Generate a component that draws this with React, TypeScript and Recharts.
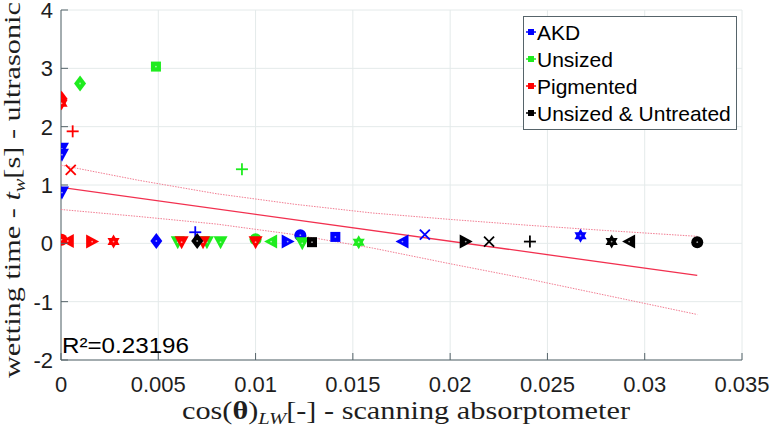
import React from 'react';
import { ScatterChart, Scatter, XAxis, YAxis, CartesianGrid } from 'recharts';

// ---------- data ----------
const xTicks = [0, 0.005, 0.01, 0.015, 0.02, 0.025, 0.03, 0.035];
const xTickLabels = ['0', '0.005', '0.01', '0.015', '0.02', '0.025', '0.03', '0.035'];
const yTicks = [-2, -1, 0, 1, 2, 3, 4];
const yTickLabels = ['-2', '-1', '0', '1', '2', '3', '4'];

const seriesNames = ['AKD', 'Unsized', 'Pigmented', 'Unsized & Untreated'];

const akdX = [0.00005, 0.00005, 0.00005, 0.0069, 0.0049, 0.01165, 0.0123, 0.0141, 0.01755, 0.0187, 0.0267];
const akdY = [1.62, 1.52, 0.87, 0.19, 0.04, 0.03, 0.14, 0.11, 0.03, 0.15, 0.13];
const akdMarkers = ['v', 'v', 'v', '+', 'd', '>', 'o', 's', '<', 'x', 'h'];

const unsizedX = [0.00488, 0.00098, 0.0093, 0.006, 0.0075, 0.0082, 0.01, 0.0108, 0.0124, 0.0153];
const unsizedY = [3.03, 2.74, 1.27, 0.02, 0.02, 0.02, 0.07, 0.03, 0.0, 0.02];
const unsizedMarkers = ['s', 'd', '+', 'v', 'v', 'v', 'o', '<', 'v', 'h'];

const pigmentedX = [0.00003, 0.00003, 0.0006, 0.0005, 0.00003, 0.00035, 0.0016, 0.0027, 0.0062, 0.0073, 0.01];
const pigmentedY = [2.48, 2.4, 1.92, 1.26, 0.06, 0.04, 0.03, 0.03, 0.02, 0.02, 0.02];
const pigmentedMarkers = ['d', 'h', '+', 'x', 'o', '<', '>', 'h', 'v', 'v', 'v'];

const untreatedX = [0.007, 0.0129, 0.0208, 0.022, 0.0241, 0.0283, 0.0292, 0.0327];
const untreatedY = [0.04, 0.02, 0.03, 0.03, 0.03, 0.03, 0.03, 0.02];
const untreatedMarkers = ['d', 's', '>', 'x', '+', 'h', '<', 'o'];

const fitX = [0, 0.0327];
const fitY = [0.96, -0.55];
const bandX = [0, 0.004, 0.008, 0.012, 0.016, 0.02, 0.024, 0.028, 0.0327];
const upperY = [1.34, 1.08, 0.85, 0.67, 0.52, 0.41, 0.31, 0.22, 0.12];
const lowerY = [0.58, 0.46, 0.33, 0.15, -0.08, -0.35, -0.61, -0.89, -1.22];

const r2Label = 'R\u00B2=0.23196';

// ---------- styles ----------
const COLORS = ['#0000ff', '#1eec1e', '#ff0000', '#000000'];
const AXIS = '#56646a';
const GRID = '#e4eaea';
const FIT = '#f2304f';
const BAND = '#f27d92';
const SANS = '"Liberation Sans", Arial, sans-serif';
const SERIF = '"Liberation Serif", "Times New Roman", serif';

const toPts = (xs: number[], ys: number[]) => xs.map((x, i) => ({ x, y: ys[i], i }));

function Marker({ cx, cy, m, color }: { cx: number; cy: number; m: string; color: string }) {
  const dot = <circle cx={cx} cy={cy} r={0.9} fill="#ffffff" opacity={0.6} />;
  switch (m) {
    case 'v':
      return (
        <g>
          <polygon points={`${cx - 7},${cy - 6} ${cx + 7},${cy - 6} ${cx},${cy + 7}`} fill={color} />
          {dot}
        </g>
      );
    case '>':
      return (
        <g>
          <polygon points={`${cx - 6},${cy - 7} ${cx - 6},${cy + 7} ${cx + 7},${cy}`} fill={color} />
          {dot}
        </g>
      );
    case '<':
      return (
        <g>
          <polygon points={`${cx + 6},${cy - 7} ${cx + 6},${cy + 7} ${cx - 7},${cy}`} fill={color} />
          {dot}
        </g>
      );
    case 'd':
      return (
        <g>
          <polygon points={`${cx},${cy - 8} ${cx + 6},${cy} ${cx},${cy + 8} ${cx - 6},${cy}`} fill={color} />
          {dot}
        </g>
      );
    case 's':
      return (
        <g>
          <rect x={cx - 5} y={cy - 5} width={10} height={10} fill={color} />
          {dot}
        </g>
      );
    case 'o':
      return (
        <g>
          <circle cx={cx} cy={cy} r={6} fill={color} />
          {dot}
        </g>
      );
    case 'h': {
      const r = 7;
      const tri = (a0: number) =>
        [0, 1, 2]
          .map((k) => {
            const a = ((a0 + k * 120) * Math.PI) / 180;
            return `${cx + r * Math.cos(a)},${cy + r * Math.sin(a)}`;
          })
          .join(' ');
      return (
        <g>
          <polygon points={tri(-90)} fill={color} />
          <polygon points={tri(90)} fill={color} />
          {dot}
        </g>
      );
    }
    case '+':
      return (
        <g stroke={color} strokeWidth={1.8}>
          <line x1={cx - 6} x2={cx + 6} y1={cy} y2={cy} />
          <line x1={cx} x2={cx} y1={cy - 6} y2={cy + 6} />
        </g>
      );
    case 'x':
      return (
        <g stroke={color} strokeWidth={1.8}>
          <line x1={cx - 5} x2={cx + 5} y1={cy - 5} y2={cy + 5} />
          <line x1={cx - 5} x2={cx + 5} y1={cy + 5} y2={cy - 5} />
        </g>
      );
    default:
      return <g />;
  }
}

const makeShape = (markers: string[], color: string) => (props: any) => {
  if (props == null || props.cx == null || props.cy == null) return <g />;
  const idx = props.payload ? props.payload.i : 0;
  return <Marker cx={props.cx} cy={props.cy} m={markers[idx]} color={color} />;
};

const noShape = () => <g />;

const BottomTick = (props: any) => {
  const { x, y, index } = props;
  return (
    <g>
      <line x1={x} x2={x} y1={y} y2={y - 7} stroke={AXIS} />
      <text x={x} y={y + 32} textAnchor="middle" fontFamily={SANS} fontSize={22} fill="#1e1e1e">
        {xTickLabels[index]}
      </text>
    </g>
  );
};

const TopTick = (props: any) => {
  const { x, y } = props;
  return <line x1={x} x2={x} y1={y} y2={y + 7} stroke={AXIS} />;
};

const LeftTick = (props: any) => {
  const { x, y, index } = props;
  return (
    <g>
      <line x1={x} x2={x + 7} y1={y} y2={y} stroke={AXIS} />
      <text x={x - 8} y={y + 8} textAnchor="end" fontFamily={SANS} fontSize={22} fill="#1e1e1e">
        {yTickLabels[index]}
      </text>
    </g>
  );
};

const RightTick = (props: any) => {
  const { x, y } = props;
  return <line x1={x} x2={x - 7} y1={y} y2={y} stroke={AXIS} />;
};

export default function App() {
  const groups = [
    { name: seriesNames[0], data: toPts(akdX, akdY), markers: akdMarkers, color: COLORS[0] },
    { name: seriesNames[1], data: toPts(unsizedX, unsizedY), markers: unsizedMarkers, color: COLORS[1] },
    { name: seriesNames[2], data: toPts(pigmentedX, pigmentedY), markers: pigmentedMarkers, color: COLORS[2] },
    { name: seriesNames[3], data: toPts(untreatedX, untreatedY), markers: untreatedMarkers, color: COLORS[3] },
  ];
  const legendRows = [32, 59, 86, 113];

  return (
    <div style={{ position: 'absolute', left: 0, top: 0, width: 774, height: 430, background: '#fff' }}>
      <ScatterChart width={774} height={430} margin={{ top: 10, right: 32, bottom: 0, left: 0 }}>
        <CartesianGrid stroke={GRID} strokeWidth={1} />
        <XAxis
          type="number"
          dataKey="x"
          domain={[0, 0.035]}
          ticks={xTicks}
          allowDataOverflow
          height={70}
          tickSize={0}
          tickMargin={0}
          tick={<BottomTick />}
          axisLine={{ stroke: AXIS }}
          interval={0}
        />
        <XAxis
          xAxisId="top"
          orientation="top"
          type="number"
          dataKey="x"
          domain={[0, 0.035]}
          ticks={xTicks}
          allowDataOverflow
          height={0}
          tickSize={0}
          tickMargin={0}
          tick={<TopTick />}
          axisLine={{ stroke: AXIS }}
          interval={0}
        />
        <YAxis
          type="number"
          dataKey="y"
          domain={[-2, 4]}
          ticks={yTicks}
          allowDataOverflow
          width={61}
          tickSize={0}
          tickMargin={0}
          tick={<LeftTick />}
          axisLine={{ stroke: AXIS }}
          interval={0}
        />
        <YAxis
          yAxisId="right"
          orientation="right"
          type="number"
          dataKey="y"
          domain={[-2, 4]}
          ticks={yTicks}
          allowDataOverflow
          width={0}
          tickSize={0}
          tickMargin={0}
          tick={<RightTick />}
          axisLine={{ stroke: AXIS }}
          interval={0}
        />
        <Scatter
          name="upper"
          data={toPts(bandX, upperY)}
          line={{ stroke: BAND, strokeWidth: 1, strokeDasharray: '1.5 1.2' }}
          shape={noShape}
          legendType="none"
          isAnimationActive={false}
        />
        <Scatter
          name="lower"
          data={toPts(bandX, lowerY)}
          line={{ stroke: BAND, strokeWidth: 1, strokeDasharray: '1.5 1.2' }}
          shape={noShape}
          legendType="none"
          isAnimationActive={false}
        />
        <Scatter
          name="fit"
          data={toPts(fitX, fitY)}
          line={{ stroke: FIT, strokeWidth: 1.3 }}
          shape={noShape}
          legendType="none"
          isAnimationActive={false}
        />
        {groups.map((g) => (
          <Scatter
            key={g.name}
            name={g.name}
            data={g.data}
            fill={g.color}
            shape={makeShape(g.markers, g.color)}
            isAnimationActive={false}
          />
        ))}
      </ScatterChart>

      <svg
        width={774}
        height={430}
        style={{ position: 'absolute', left: 0, top: 0, pointerEvents: 'none' }}
      >
        {/* legend */}
        <rect x={523.5} y={16.5} width={213} height={113} fill="#ffffff" stroke={AXIS} strokeWidth={1} />
        {seriesNames.map((n, k) => (
          <g key={n}>
            <line x1={526} x2={536} y1={legendRows[k]} y2={legendRows[k]} stroke={COLORS[k]} strokeWidth={1.5} />
            <rect x={528} y={legendRows[k] - 3} width={6} height={6} fill={COLORS[k]} />
            <text x={537} y={legendRows[k] + 7.5} fontFamily={SANS} fontSize={21} fill="#000">
              {n}
            </text>
          </g>
        ))}

        {/* R^2 */}
        <text x={62} y={353} fontFamily={SANS} fontSize={22} fill="#000" textLength={127} lengthAdjust="spacingAndGlyphs">
          {r2Label}
        </text>

        {/* x axis label */}
        <text
          x={406}
          y={419}
          textAnchor="middle"
          fontFamily={SERIF}
          fontSize={25}
          fill="#1e1e1e"
          textLength={448}
          lengthAdjust="spacingAndGlyphs"
        >
          cos(<tspan fontWeight="bold">θ</tspan>)
          <tspan fontStyle="italic" fontSize={17} dy={5}>LW</tspan>
          <tspan dy={-5}>[-] - scanning absorptometer</tspan>
        </text>

        {/* y axis label */}
        <text
          transform="translate(20,190) rotate(-90)"
          x={0}
          y={0}
          textAnchor="middle"
          fontFamily={SERIF}
          fontSize={24}
          fill="#1e1e1e"
          textLength={376}
          lengthAdjust="spacingAndGlyphs"
        >
          wetting time - <tspan fontStyle="italic">t</tspan>
          <tspan fontStyle="italic" fontSize={16} dy={5}>w</tspan>
          <tspan dy={-5}>[s] - ultrasonic</tspan>
        </text>
      </svg>
    </div>
  );
}
